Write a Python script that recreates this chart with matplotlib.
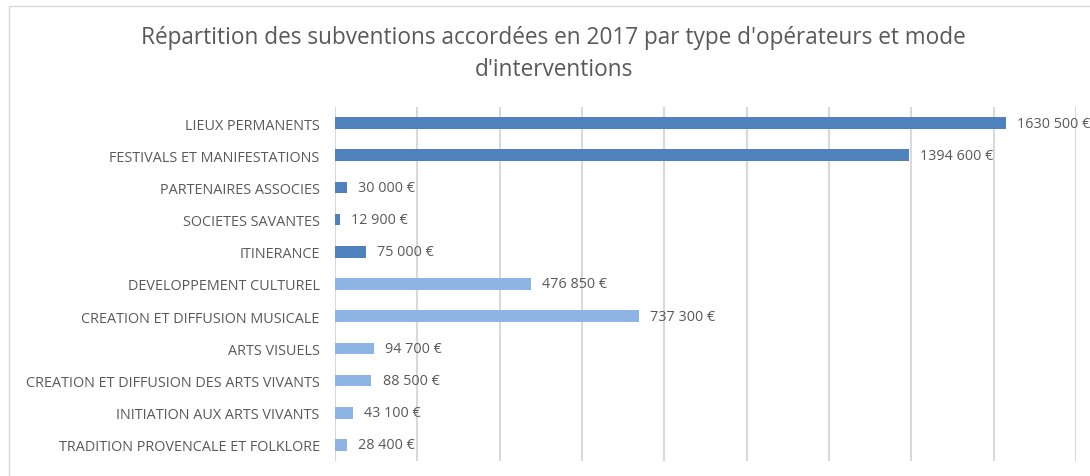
import matplotlib.pyplot as plt
from matplotlib.patches import Rectangle

categories = [
    "LIEUX PERMANENTS",
    "FESTIVALS ET MANIFESTATIONS",
    "PARTENAIRES ASSOCIES",
    "SOCIETES SAVANTES",
    "ITINERANCE",
    "DEVELOPPEMENT CULTUREL",
    "CREATION ET DIFFUSION MUSICALE",
    "ARTS VISUELS",
    "CREATION ET DIFFUSION DES ARTS VIVANTS",
    "INITIATION AUX ARTS VIVANTS",
    "TRADITION PROVENCALE ET FOLKLORE",
]
amounts = [1630500, 1394600, 30000, 12900, 75000, 476850, 737300,
           94700, 88500, 43100, 28400]
# first five are "opérateurs", the rest "mode d'interventions"
groups = ["op"] * 5 + ["int"] * 6
group_colors = {"op": "#4F81BD", "int": "#8EB4E3"}

x_max = 1800000
x_step = 200000

plt.rcParams['font.family'] = ['Open Sans', 'DejaVu Sans']
text_col = "#595959"

fig = plt.figure(figsize=(10.9, 4.77), dpi=100)
ax = fig.add_axes([0.3073, 1 - 462 / 477, 0.6799, 354 / 477])

# light frame around the chart area (like the spreadsheet chart box)
fig.patches.append(Rectangle((9 / 1090, -0.05), 1.1, 1.05 - 7 / 477,
                             transform=fig.transFigure, fill=False,
                             edgecolor="#D9D9D9", linewidth=1.0))

y = list(range(len(categories)))
cols = [group_colors[g] for g in groups]
ax.barh(y, amounts, height=0.36, color=cols, zorder=3)

for yi, v in zip(y, amounts):
    lab = f"{v // 1000} {v % 1000:03d} €"
    ax.text(v + 27000, yi, lab, va="center", ha="left", fontsize=10.4,
            color=text_col, clip_on=False)

ax.set_xlim(0, x_max)
ax.set_ylim(len(categories) - 0.5, -0.5)
ax.set_xticks(range(0, x_max + 1, x_step))
ax.set_xticklabels([])
ax.tick_params(axis="x", length=0)
ax.tick_params(axis="y", length=0, pad=11, labelsize=10.4, labelcolor=text_col)
ax.set_yticks(y)
ax.set_yticklabels(categories)
ax.grid(axis="x", color="#D9D9D9", linewidth=1.5, zorder=0)
for s in ax.spines.values():
    s.set_visible(False)

fig.text(0.508, 1 - 38 / 477,
         "Répartition des subventions accordées en 2017 par type d'opérateurs et mode",
         ha="center", va="center", fontsize=16.3, color=text_col)
fig.text(0.508, 1 - 70 / 477, "d'interventions",
         ha="center", va="center", fontsize=16.3, color=text_col)

fig.savefig("out.png", dpi=100)
